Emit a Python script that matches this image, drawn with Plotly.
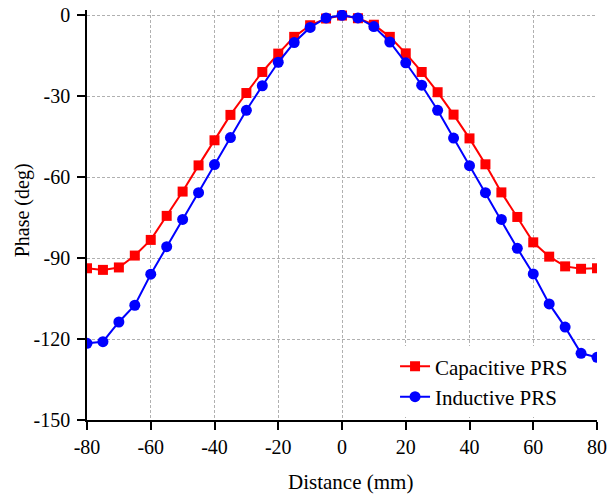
import plotly.graph_objects as go

distance = [-80, -75, -70, -65, -60, -55, -50, -45, -40, -35, -30, -25, -20, -15, -10, -5,
            0, 5, 10, 15, 20, 25, 30, 35, 40, 45, 50, 55, 60, 65, 70, 75, 80]

capacitive = [-93.8, -94.4, -93.5, -89.1, -83.3, -74.4, -65.4, -55.7, -46.4, -37.0, -28.9,
              -21.1, -14.3, -8.1, -3.8, -1.3, -0.2, -1.2, -3.6, -8.1, -14.2, -21.1, -28.6,
              -36.9, -45.7, -55.3, -65.7, -74.8, -84.2, -89.5, -93.1, -94.0, -93.8]

inductive = [-121.6, -121.0, -113.7, -107.5, -96.0, -85.8, -75.7, -65.8, -55.4, -45.4, -35.3,
             -26.2, -17.5, -10.2, -4.6, -1.1, -0.1, -1.1, -4.3, -10.0, -17.7, -26.0, -35.3,
             -45.6, -55.8, -65.8, -75.7, -86.4, -95.9, -107.0, -115.6, -125.3, -126.8]

x_ticks = [-80, -60, -40, -20, 0, 20, 40, 60, 80]
y_ticks = [0, -30, -60, -90, -120, -150]

FONT = "Liberation Serif"

fig = go.Figure()
fig.add_trace(go.Scatter(
    x=distance, y=capacitive, mode="lines+markers", name="Capacitive PRS",
    line=dict(color="#ff0000", width=2),
    marker=dict(symbol="square", size=10, color="#ff0000"),
))
fig.add_trace(go.Scatter(
    x=distance, y=inductive, mode="lines+markers", name="Inductive PRS",
    line=dict(color="#0000ff", width=2),
    marker=dict(symbol="circle", size=11, color="#0000ff"),
))

axis_common = dict(
    showline=True, linecolor="black", linewidth=1.5,
    ticks="outside", ticklen=8, tickwidth=1.5, tickcolor="black",
    showgrid=True, gridcolor="#b0b0b0", gridwidth=1, griddash="3px,2px",
    zeroline=False, automargin=False,
    tickfont=dict(family=FONT, size=20, color="black"),
)

fig.update_xaxes(
    range=[-80, 80], tickvals=x_ticks, ticktext=[str(v) for v in x_ticks],
    **axis_common,
)
fig.update_yaxes(
    range=[-150, 1.85], tickvals=y_ticks, ticktext=[str(v) for v in y_ticks],
    ticklabelstandoff=3,
    **axis_common,
)

fig.update_layout(
    width=609, height=495,
    margin=dict(l=87, r=12, t=10, b=75),
    paper_bgcolor="white", plot_bgcolor="white",
    font=dict(family=FONT, size=20, color="black"),
    legend=dict(
        x=0.604, y=0.18, xanchor="left", yanchor="top",
        bgcolor="white", borderwidth=0,
        font=dict(family=FONT, size=21, color="black"),
        tracegroupgap=0,
    ),
    annotations=[
        dict(text="Distance (mm)", xref="paper", yref="paper", x=0.516, y=-0.152,
             xanchor="center", yanchor="middle", showarrow=False,
             font=dict(family=FONT, size=21, color="black")),
        dict(text="Phase (deg)", xref="paper", yref="paper", x=-0.127, y=0.512,
             xanchor="center", yanchor="middle", showarrow=False, textangle=-90,
             font=dict(family=FONT, size=20, color="black")),
    ],
)

fig.write_html("out.html")
